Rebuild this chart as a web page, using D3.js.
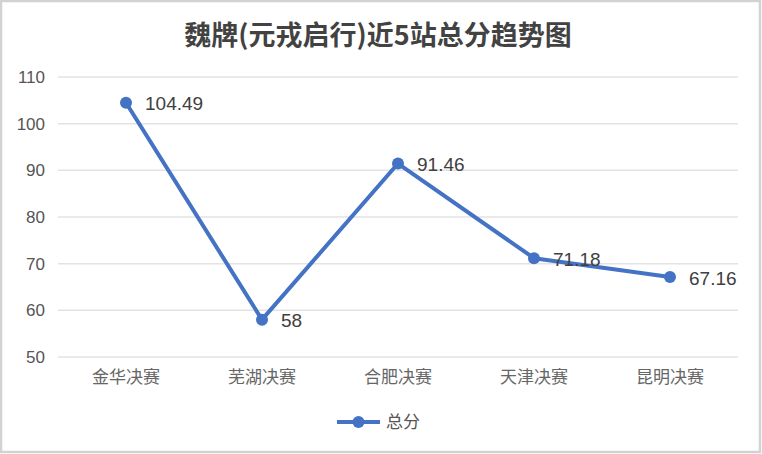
<!DOCTYPE html>
<html>
<head>
<meta charset="utf-8">
<script src="https://cdn.jsdelivr.net/npm/d3@7"></script>
<style>
  body { margin: 0; background: #fff; }
  svg text { font-family: "Liberation Sans", "Noto Sans CJK SC", sans-serif; }
  svg text.cjk { font-family: "Noto Sans CJK SC", "Noto Sans", sans-serif; }
</style>
</head>
<body>
<div id="chart"></div>
<script>
const titleText = "魏牌(元戎启行)近5站总分趋势图";
const seriesName = "总分";
const categories = ["金华决赛", "芜湖决赛", "合肥决赛", "天津决赛", "昆明决赛"];
const scores = [104.49, 58, 91.46, 71.18, 67.16];
const scoreLabels = ["104.49", "58", "91.46", "71.18", "67.16"];
const yTicks = [50, 60, 70, 80, 90, 100, 110];

const W = 762, H = 454;
const margin = {top: 77, right: 24, bottom: 97, left: 58};
const blue = "#4472c4";

const svg = d3.select("#chart").append("svg")
    .attr("width", W)
    .attr("height", H);

// outer frame
svg.append("rect")
    .attr("x", 1).attr("y", 1)
    .attr("width", W - 3).attr("height", H - 3)
    .attr("fill", "#fff")
    .attr("stroke", "#d2d2d2")
    .attr("stroke-width", 2.5);

const x = d3.scaleBand()
    .domain(categories)
    .range([margin.left, W - margin.right]);

const y = d3.scaleLinear()
    .domain([50, 110])
    .range([H - margin.bottom, margin.top]);

// title
svg.append("text")
    .attr("class", "cjk")
    .attr("x", 378).attr("y", 45)
    .attr("text-anchor", "middle")
    .attr("font-size", 27)
    .attr("font-weight", "bold")
    .attr("fill", "#424242")
    .text(titleText);

// gridlines
svg.append("g")
    .selectAll("line")
    .data(yTicks)
    .join("line")
    .attr("x1", margin.left).attr("x2", W - margin.right)
    .attr("y1", d => y(d)).attr("y2", d => y(d))
    .attr("stroke", "#e3e3e3")
    .attr("stroke-width", 1.5);

// y axis labels
const yAxis = svg.append("g")
    .attr("transform", `translate(${margin.left},0)`)
    .call(d3.axisLeft(y).tickValues(yTicks).tickSize(0).tickPadding(13));
yAxis.select(".domain").remove();
yAxis.selectAll("text")
    .attr("font-family", "Liberation Sans, sans-serif")
    .attr("font-size", 17)
    .attr("fill", "#555");

// x axis labels
const xAxis = svg.append("g")
    .attr("transform", `translate(0,${H - margin.bottom})`)
    .call(d3.axisBottom(x).tickSize(0).tickPadding(14));
xAxis.select(".domain").remove();
xAxis.selectAll("text")
    .attr("class", "cjk")
    .attr("font-size", 17)
    .attr("fill", "#666");

const pts = categories.map((c, i) => [x(c) + x.bandwidth() / 2, y(scores[i])]);

svg.append("path")
    .attr("d", d3.line()(pts))
    .attr("fill", "none")
    .attr("stroke", blue)
    .attr("stroke-width", 4)
    .attr("stroke-linejoin", "round");

svg.append("g")
    .selectAll("circle")
    .data(pts)
    .join("circle")
    .attr("cx", d => d[0]).attr("cy", d => d[1])
    .attr("r", 6)
    .attr("fill", blue);

svg.append("g")
    .selectAll("text")
    .data(pts)
    .join("text")
    .attr("x", d => d[0] + 19)
    .attr("y", d => d[1] + 1)
    .attr("dy", "0.35em")
    .attr("font-size", 19)
    .attr("fill", "#404040")
    .text((d, i) => scoreLabels[i]);

// legend
const lg = svg.append("g").attr("transform", "translate(337,422)");
lg.append("line")
    .attr("x1", 0).attr("x2", 43)
    .attr("stroke", blue).attr("stroke-width", 4);
lg.append("circle")
    .attr("cx", 21.5).attr("r", 6).attr("fill", blue);
lg.append("text")
    .attr("class", "cjk")
    .attr("x", 49).attr("dy", "0.35em")
    .attr("font-size", 17)
    .attr("fill", "#555")
    .text(seriesName);
</script>
</body>
</html>
